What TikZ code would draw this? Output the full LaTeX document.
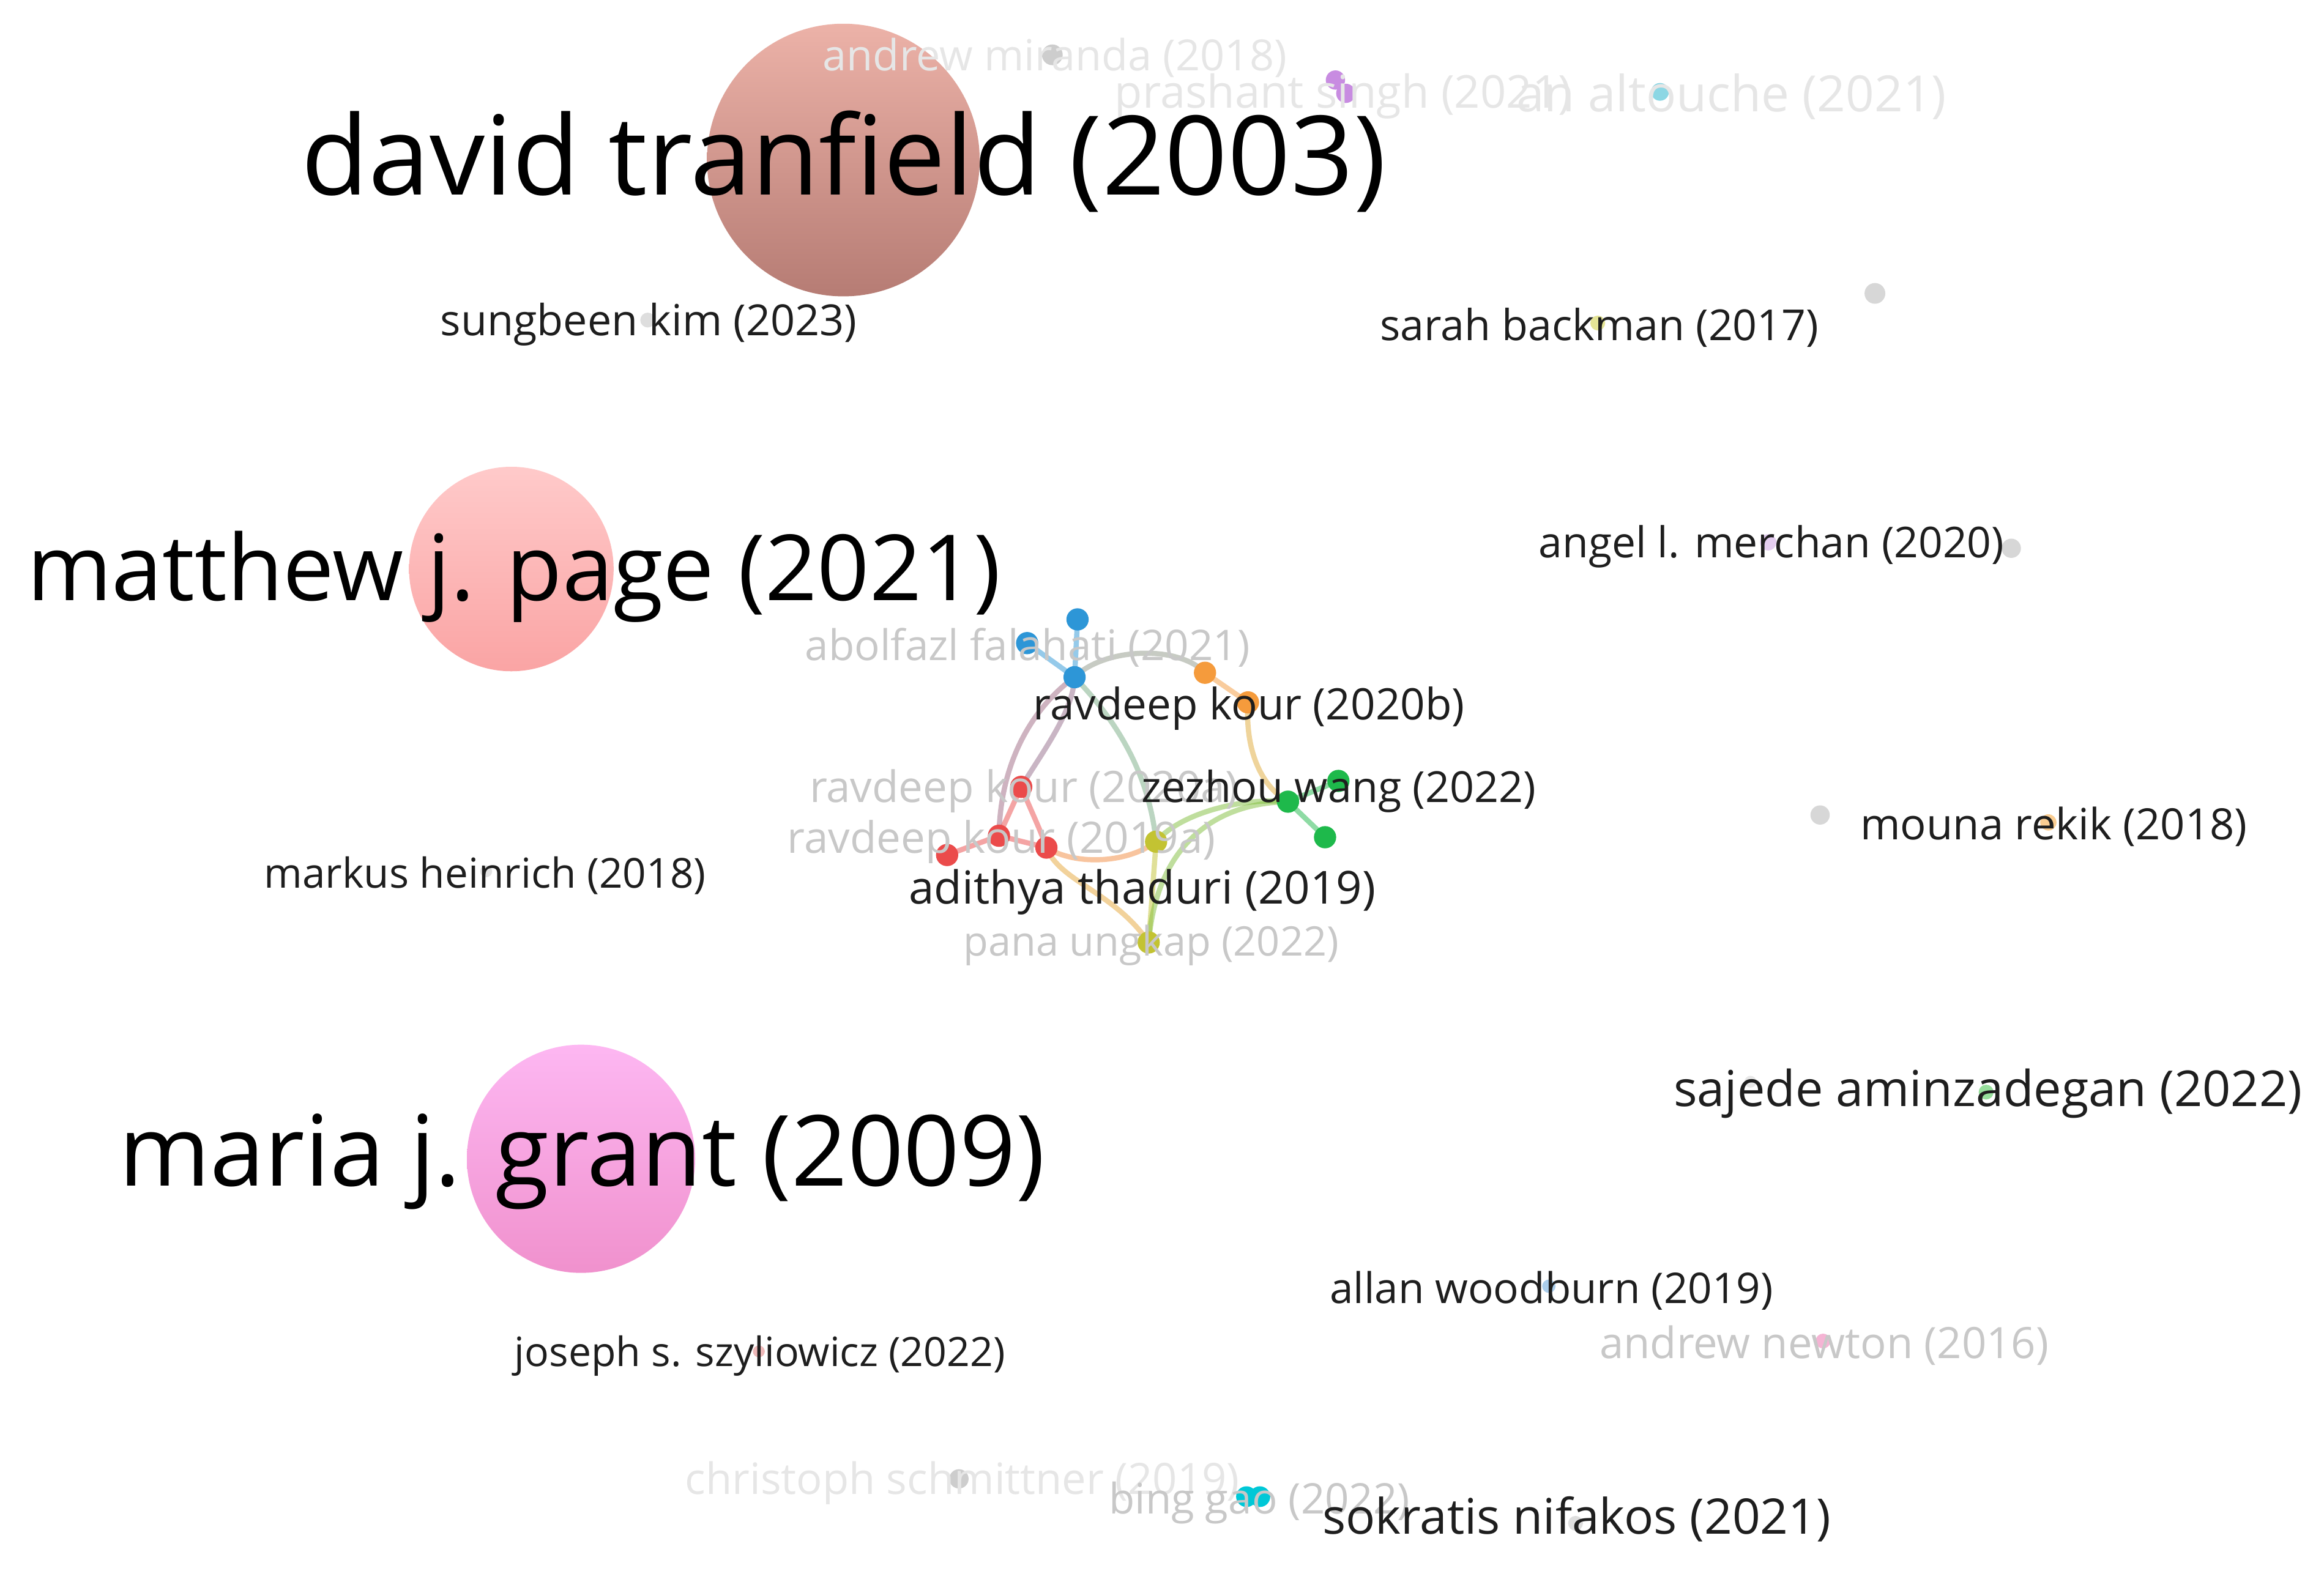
\documentclass[tikz,border=0pt]{standalone}
\usepackage{fontspec}
\setmainfont{Open Sans}
\usepackage{graphicx}
\pgfdeclarelayer{bg}
\pgfdeclarelayer{edges}
\pgfsetlayers{bg,edges,main}
\definecolor{lbldark}{RGB}{30,30,30}
\definecolor{lblfaint}{RGB}{200,200,200}
\definecolor{lblpale}{RGB}{230,230,230}
\definecolor{cblue}{RGB}{45,150,215}
\definecolor{corange}{RGB}{245,155,60}
\definecolor{cred}{RGB}{235,75,75}
\definecolor{cgreen}{RGB}{30,185,75}
\definecolor{cyellow}{RGB}{195,195,50}
\definecolor{cpurple}{RGB}{200,140,225}
\definecolor{ccyan}{RGB}{0,200,215}
\definecolor{cgray}{RGB}{205,205,205}
\newcommand\lw[2]{\resizebox{#1pt}{!}{#2}}
\tikzset{
  dotnode/.style={circle, inner sep=0pt, minimum size=#1pt, draw=none},
  dotnode/.default=15,
  lbl/.style={inner sep=0pt, anchor=west, text=lbldark},
  faintlbl/.style={inner sep=0pt, anchor=west, text=lblfaint},
  palelbl/.style={inner sep=0pt, anchor=west, text=lblpale},
  biglbl/.style={inner sep=0pt, anchor=west, text=black},
  link/.style={line width=3.5pt, opacity=0.5, line cap=round},
}
\begin{document}
\begin{tikzpicture}[x=1pt,y=-1pt]
\useasboundingbox (0,0) rectangle (1568,1060);
\begin{pgfonlayer}{bg}
\fill[white] (0,0) rectangle (1568,1060);
\end{pgfonlayer}

% big circles
\node[circle, minimum size=184pt, inner sep=0pt, top color={rgb,255:red,236;green,178;blue,168}, bottom color={rgb,255:red,182;green,124;blue,116}] (tranfieldc) at (569,108) {};
\node[circle, minimum size=138pt, inner sep=0pt, top color={rgb,255:red,255;green,202;blue,202}, bottom color={rgb,255:red,250;green,164;blue,164}] (pagec) at (345,384) {};
\node[circle, minimum size=154pt, inner sep=0pt, top color={rgb,255:red,253;green,183;blue,242}, bottom color={rgb,255:red,240;green,145;blue,205}] (grantc) at (392,782) {};

% isolated dots
\node[dotnode=14, fill=cgray] (mirandad) at (710,37) {};
\node[dotnode=13, fill=cpurple] (singhd1) at (901,54) {};
\node[dotnode=13, fill=cpurple] (singhd2) at (908,63) {};
\node[dotnode=12, fill={rgb,255:red,140;green,215;blue,228}] (altouched) at (1120,62) {};
\node[dotnode=10, fill={rgb,255:red,222;green,222;blue,222}] (kimd) at (437,216) {};
\node[dotnode=10, fill={rgb,255:red,228;green,228;blue,150}] (backmand) at (1078,218) {};
\node[dotnode=14, fill={rgb,255:red,215;green,215;blue,215}] (grayd1) at (1265,198) {};
\node[dotnode=11, fill={rgb,255:red,228;green,205;blue,240}] (merchand) at (1193,366) {};
\node[dotnode=13, fill={rgb,255:red,215;green,215;blue,215}] (grayd2) at (1357,370) {};
\node[dotnode=8, fill={rgb,255:red,225;green,225;blue,225}] (heinrichd) at (328,588) {};
\node[dotnode=11, fill={rgb,255:red,250;green,205;blue,145}] (rekikd) at (1382,555) {};
\node[dotnode=13, fill={rgb,255:red,215;green,215;blue,215}] (grayd3) at (1228,550) {};
\node[dotnode=10, fill={rgb,255:red,150;green,222;blue,155}] (aminzadegand) at (1340,737) {};
\node[dotnode=8, fill={rgb,255:red,232;green,232;blue,232}] (grayd4) at (1181,730) {};
\node[dotnode=9, fill={rgb,255:red,170;green,205;blue,235}] (woodburnd) at (1045,868) {};
\node[dotnode=10, fill={rgb,255:red,245;green,180;blue,212}] (newtond) at (1230,905) {};
\node[dotnode=8, fill={rgb,255:red,238;green,185;blue,185}] (szyliowiczd) at (512,912) {};
\node[dotnode=13, fill=cgray] (schmittnerd) at (647,998) {};
\node[dotnode=14, fill=ccyan] (gaod1) at (841,1010) {};
\node[dotnode=14, fill=ccyan] (gaod2) at (850,1010) {};
\node[dotnode=10, fill={rgb,255:red,222;green,222;blue,222}] (nifakosd) at (1063,1028) {};

% cluster dots
\node[dotnode, fill=cblue] (b1) at (727,418) {};
\node[dotnode, fill=cblue] (b2) at (693,434) {};
\node[dotnode, fill=cblue] (b3) at (725,457) {};
\node[dotnode, fill=corange] (o1) at (813,454) {};
\node[dotnode, fill=corange] (o2) at (842,474) {};
\node[dotnode, fill=cred] (r1) at (689,531) {};
\node[dotnode, fill=cred] (r2) at (674,564) {};
\node[dotnode, fill=cred] (r3) at (706,572) {};
\node[dotnode, fill=cred] (r4) at (639,577) {};
\node[dotnode, fill=cgreen] (g1) at (903,527) {};
\node[dotnode, fill=cgreen] (g2) at (869,541) {};
\node[dotnode, fill=cgreen] (g3) at (894,565) {};
\node[dotnode, fill=cyellow] (y1) at (780,568) {};
\node[dotnode, fill=cyellow] (y2) at (775,636) {};

% links
\begin{pgfonlayer}{edges}
\draw[link, cblue] (b1.center) -- (b3.center);
\draw[link, cblue] (b2.center) -- (b3.center);
\draw[link, cblue!50!corange] (b3.center) .. controls (745,437) and (795,435) .. (o1.center);
\draw[link, corange] (o1.center) -- (o2.center);
\draw[link, corange!60!cyellow] (o2.center) .. controls (840,505) and (850,530) .. (g2.center);
\draw[link, cblue!45!cred] (b3.center) .. controls (724,480) and (705,505) .. (r1.center);
\draw[link, cblue!40!cred] (b3.center) .. controls (700,475) and (675,510) .. (r2.center);
\draw[link, cblue!50!cyellow] (b3.center) .. controls (752,485) and (775,520) .. (y1.center);
\draw[link, cred] (r1.center) -- (r2.center);
\draw[link, cred] (r1.center) .. controls (696,548) and (702,560) .. (r3.center);
\draw[link, cred] (r2.center) -- (r4.center);
\draw[link, cred] (r2.center) -- (r3.center);
\draw[link, corange!80!cred] (r3.center) .. controls (725,584) and (760,583) .. (y1.center);
\draw[link, corange!70!cyellow] (r3.center) .. controls (715,595) and (752,602) .. (y2.center);
\draw[link, cyellow] (y1.center) -- (y2.center);
\draw[link, cyellow!60!cgreen] (y1.center) .. controls (795,550) and (835,538) .. (g2.center);
\draw[link, cyellow!60!cgreen] (y2.center) .. controls (780,575) and (815,542) .. (g2.center);
\draw[link, cgreen] (g2.center) -- (g1.center);
\draw[link, cgreen] (g2.center) -- (g3.center);
\end{pgfonlayer}

% labels
\node[palelbl] (miranda) at (555,39) {\lw{313}{andrew miranda (2018)}};
\node[palelbl] (altouche) at (1023,65) {\lw{290}{an altouche (2021)}};
\node[palelbl] (singh) at (752,65) {\lw{308}{prashant singh (2021)}};
\node[faintlbl] (falahati) at (543,437) {\lw{300}{abolfazl falahati (2021)}};
\node[faintlbl] (kour20a) at (546,534) {\lw{289}{ravdeep kour (2020a)}};
\node[faintlbl] (kour19a) at (531,568) {\lw{289}{ravdeep kour (2019a)}};
\node[faintlbl] (ungkap) at (650,638) {\lw{253}{pana ungkap (2022)}};
\node[faintlbl] (newton) at (1079,908) {\lw{303}{andrew newton (2016)}};
\node[palelbl] (schmittner) at (462,1001) {\lw{374}{christoph schmittner (2019)}};
\node[faintlbl] (gao) at (748,1014) {\lw{203}{bing gao (2022)}};

\node[biglbl] (tranfield) at (203,109) {\lw{732}{david tranfield (2003)}};
\node[biglbl] (page) at (18,389) {\lw{657}{matthew j. page (2021)}};
\node[biglbl] (grant) at (80,784) {\lw{625}{maria j. grant (2009)}};

\node[lbl] (kim) at (297,219) {\lw{281}{sungbeen kim (2023)}};
\node[lbl] (backman) at (931,221) {\lw{296}{sarah backman (2017)}};
\node[lbl] (merchan) at (1038,369) {\lw{314}{angel l. merchan (2020)}};
\node[lbl] (kour20b) at (697,478) {\lw{291}{ravdeep kour (2020b)}};
\node[lbl] (wang) at (770,534) {\lw{266}{zezhou wang (2022)}};
\node[lbl] (thaduri) at (613,602) {\lw{315}{adithya thaduri (2019)}};
\node[lbl] (heinrich) at (178,591) {\lw{298}{markus heinrich (2018)}};
\node[lbl] (rekik) at (1255,558) {\lw{261}{mouna rekik (2018)}};
\node[lbl] (aminzadegan) at (1129,738) {\lw{424}{sajede aminzadegan (2022)}};
\node[lbl] (woodburn) at (897,871) {\lw{299}{allan woodburn (2019)}};
\node[lbl] (szyliowicz) at (347,915) {\lw{331}{joseph s. szyliowicz (2022)}};
\node[lbl] (nifakos) at (892,1025) {\lw{343}{sokratis nifakos (2021)}};
\end{tikzpicture}
\end{document}
